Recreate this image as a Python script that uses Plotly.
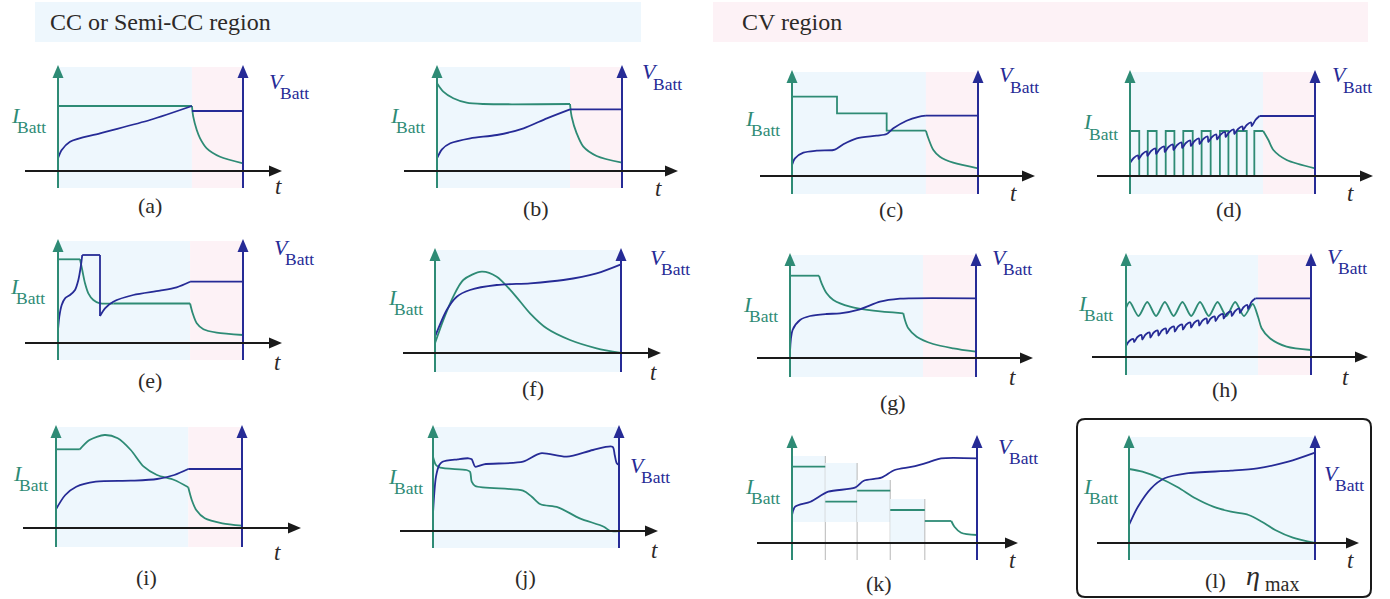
import plotly.graph_objects as go

# ---------------- DATA ----------------
# t: 0 at the I_Batt axis, 1 at the V_Batt axis; values: 1.0 = 100 px above the t axis
a_cc_end = 0.724
a_i_t = [0, 0.724, None, 0.724, 0.731, 0.75, 0.768, 0.804, 0.876, 1.0]
a_i_v = [0.65, 0.65, None, 0.65, 0.543, 0.41, 0.327, 0.227, 0.143, 0.077]
a_v_t = [0, 0.02, 0.065, 0.227, 0.497, 0.724, None, 0.724, 1.0]
a_v_v = [0.127, 0.21, 0.293, 0.377, 0.51, 0.65, None, 0.60, 0.60]

b_cc_end = 0.719
b_i_t = [0, 0.034, 0.088, 0.16, 0.25, 0.719, None, 0.719, 0.728, 0.755, 0.791, 0.863, 1.0]
b_i_v = [0.877, 0.793, 0.727, 0.683, 0.67, 0.67, None, 0.67, 0.543, 0.377, 0.243, 0.15, 0.083]
b_v_t = [0, 0.027, 0.072, 0.18, 0.324, 0.468, 0.594, 0.719, None, 0.719, 1.0]
b_v_v = [0.127, 0.217, 0.277, 0.327, 0.36, 0.427, 0.527, 0.617, None, 0.617, 0.617]

c_cc_end = 0.72
c_step_t = [0, 0.242, 0.509, 0.72]
c_step_v = [0.793, 0.627, 0.453, 0.453]
c_i_t = [0.72, 0.733, 0.76, 0.795, 0.867, 1.0]
c_i_v = [0.453, 0.377, 0.26, 0.193, 0.133, 0.077]
c_v_t = [0, 0.016, 0.061, 0.133, 0.222, 0.24, 0.276, 0.348, 0.455, 0.509, 0.545, 0.616, 0.68, 0.72, None, 0.72, 1.0]
c_v_v = [0.11, 0.177, 0.233, 0.253, 0.26, 0.273, 0.317, 0.377, 0.403, 0.42, 0.477, 0.553, 0.592, 0.603, None, 0.603, 0.603]

d_cc_end = 0.719
d_pulse_t = [0, 0.05, 0.096, 0.144, 0.193, 0.24, 0.288, 0.339, 0.387, 0.436, 0.486, 0.532, 0.577, 0.631, 0.672, 0.72]
d_pulse_v = [0.45, 0, 0.45, 0, 0.45, 0, 0.45, 0, 0.45, 0, 0.45, 0, 0.45, 0, 0.45, 0.45]
d_i_t = [0.72, 0.748, 0.775, 0.847, 1.0]
d_i_v = [0.45, 0.36, 0.26, 0.16, 0.077]
d_v_t = [0, 0.02, 0.044, 0.047, 0.067, 0.091, 0.094, 0.114, 0.138, 0.141, 0.161, 0.185,
         0.188, 0.208, 0.232, 0.235, 0.255, 0.279, 0.282, 0.302, 0.326, 0.329, 0.349, 0.373,
         0.376, 0.396, 0.42, 0.423, 0.443, 0.467, 0.47, 0.49, 0.514, 0.517, 0.537, 0.561,
         0.564, 0.584, 0.608, 0.611, 0.631, 0.655, 0.658, 0.678, 0.70, None, 0.70, 1.0]
d_v_v = [0.13, 0.18, 0.205, 0.17, 0.22, 0.245, 0.20, 0.25, 0.275, 0.22, 0.27, 0.295,
         0.24, 0.29, 0.315, 0.26, 0.31, 0.335, 0.28, 0.33, 0.355, 0.30, 0.35, 0.375,
         0.32, 0.37, 0.395, 0.34, 0.39, 0.415, 0.365, 0.415, 0.44, 0.39, 0.44, 0.465,
         0.42, 0.47, 0.495, 0.46, 0.51, 0.535, 0.50, 0.56, 0.60, None, 0.60, 0.60]

e_cc_end = 0.714
e_i_t = [0, 0.119, None, 0.119, 0.131, 0.146, 0.164, 0.191, 0.227, 0.3, None, 0.3, 0.714,
         None, 0.714, 0.728, 0.75, 0.786, 0.858, 1.0]
e_i_v = [0.837, 0.837, None, 0.837, 0.73, 0.597, 0.497, 0.43, 0.397, 0.395, None, 0.395, 0.395,
         None, 0.395, 0.297, 0.197, 0.137, 0.103, 0.08]
e_v_t = [0, 0.007, 0.02, 0.038, 0.065, 0.092, 0.11, 0.123, 0.131, None, 0.131, 0.227, None,
         0.227, 0.227, None, 0.227, 0.254, 0.299, 0.407, 0.551, 0.641, 0.714, None, 0.714, 1.0]
e_v_v = [0.13, 0.263, 0.38, 0.447, 0.48, 0.53, 0.63, 0.763, 0.88, None, 0.88, 0.88, None,
         0.88, 0.27, None, 0.27, 0.347, 0.413, 0.48, 0.523, 0.557, 0.613, None, 0.613, 0.613]

f_i_t = [0, 0.045, 0.098, 0.152, 0.251, 0.332, 0.421, 0.511, 0.6, 0.726, 0.869, 1.0]
f_i_v = [0.097, 0.33, 0.563, 0.73, 0.813, 0.763, 0.597, 0.397, 0.247, 0.13, 0.047, 0.0]
f_v_t = [0, 0.063, 0.117, 0.188, 0.332, 0.511, 0.69, 0.869, 1.0]
f_v_v = [0.163, 0.43, 0.563, 0.63, 0.68, 0.697, 0.73, 0.797, 0.887]

g_cc_end = 0.715
g_i_t = [0, 0.156, None, 0.156, 0.17, 0.197, 0.233, 0.323, 0.448, 0.609, None,
         0.609, 0.618, 0.636, 0.681, 0.77, 0.878, 1.0]
g_i_v = [0.823, 0.823, None, 0.823, 0.747, 0.647, 0.58, 0.513, 0.473, 0.447, None,
         0.447, 0.38, 0.297, 0.213, 0.14, 0.097, 0.063]
g_v_t = [0, 0.014, 0.054, 0.108, 0.197, 0.269, 0.376, 0.484, 0.591, 0.65, 1.0]
g_v_v = [0.063, 0.28, 0.38, 0.42, 0.44, 0.447, 0.487, 0.563, 0.593, 0.597, 0.597]

h_cc_end = 0.714
h_i_t = [0, 0.02, 0.0675, 0.115, 0.1625, 0.21, 0.2575, 0.305, 0.3525, 0.4, 0.4475, 0.495,
         0.5425, 0.59, 0.6375, 0.685, 0.714, 0.733, 0.778, 0.868, 1.0]
h_i_v = [0.49, 0.55, 0.41, 0.55, 0.41, 0.55, 0.41, 0.55, 0.41, 0.55, 0.41, 0.55,
         0.41, 0.55, 0.41, 0.53, 0.40, 0.287, 0.187, 0.103, 0.07]
h_v_t = [0, 0.018, 0.04, 0.044, 0.062, 0.084, 0.088, 0.106, 0.128, 0.132, 0.15, 0.172,
         0.176, 0.194, 0.216, 0.22, 0.238, 0.26, 0.264, 0.282, 0.304, 0.308, 0.326, 0.348,
         0.352, 0.37, 0.392, 0.396, 0.414, 0.436, 0.44, 0.458, 0.48, 0.484, 0.502, 0.524,
         0.528, 0.546, 0.568, 0.572, 0.59, 0.612, 0.616, 0.634, 0.656, 0.66, 0.678, 0.70,
         None, 0.70, 1.0]
h_v_v = [0.11, 0.16, 0.18, 0.15, 0.2, 0.22, 0.175, 0.225, 0.245, 0.195, 0.245, 0.265,
         0.215, 0.265, 0.285, 0.235, 0.285, 0.305, 0.255, 0.305, 0.325, 0.275, 0.325, 0.345,
         0.295, 0.345, 0.365, 0.315, 0.365, 0.385, 0.335, 0.385, 0.405, 0.36, 0.41, 0.43,
         0.385, 0.435, 0.455, 0.41, 0.46, 0.485, 0.44, 0.495, 0.52, 0.48, 0.55, 0.587,
         None, 0.587, 0.587]

i_cc_end = 0.711
i_i_t = [0, 0.128, None, 0.128, 0.18, 0.261, 0.332, 0.402, 0.472, 0.543, 0.636, 0.711,
         None, 0.711, 0.73, 0.754, 0.8, 0.894, 1.0]
i_i_v = [0.787, 0.787, None, 0.787, 0.88, 0.93, 0.897, 0.78, 0.613, 0.53, 0.48, 0.407,
         None, 0.407, 0.28, 0.18, 0.097, 0.047, 0.023]
i_v_t = [0, 0.05, 0.109, 0.214, 0.402, 0.543, 0.636, 0.711, None, 0.711, 1.0]
i_v_v = [0.187, 0.33, 0.413, 0.463, 0.473, 0.49, 0.53, 0.59, None, 0.59, 0.59]

j_i_t = [0, 0.016, 0.039, 0.18, 0.199, 0.208, 0.227, 0.484, 0.531, 0.578, 0.672, 0.789, 0.918, 0.953, 1.0]
j_i_v = [0.743, 0.66, 0.633, 0.61, 0.593, 0.493, 0.45, 0.403, 0.343, 0.267, 0.237, 0.127, 0.043, 0.0, 0.0]
j_v_t = [0, 0.016, 0.034, 0.051, 0.133, 0.191, 0.208, 0.227, 0.274, 0.484, 0.578, 0.719,
         0.86, 0.965, 0.977, 0.988, 1.0]
j_v_v = [0.177, 0.543, 0.66, 0.693, 0.717, 0.727, 0.717, 0.643, 0.667, 0.693, 0.777, 0.743,
         0.81, 0.843, 0.76, 0.677, 0.66]

k_block_t = [0, 0.18, 0.352, 0.531, 0.718]
k_block_top = [0.87, 0.80, 0.63, 0.44]
k_block_bot = [0.21, 0.21, 0.21, 0.0]
k_i_t = [0, 0.18, None, 0.18, 0.352, None, 0.352, 0.531, None, 0.531, 0.718, None,
         0.718, 0.861, None, 0.861, 0.878, 0.914, 1.0]
k_i_v = [0.763, 0.763, None, 0.413, 0.413, None, 0.523, 0.523, None, 0.33, 0.33, None,
         0.22, 0.22, None, 0.22, 0.163, 0.103, 0.08]
k_v_t = [0, 0.017, 0.1, 0.196, 0.34, 0.388, 0.483, 0.555, 0.651, 0.747, 0.806, 1.0]
k_v_v = [0.28, 0.363, 0.413, 0.513, 0.553, 0.623, 0.653, 0.73, 0.763, 0.813, 0.847, 0.847]

l_i_t = [0, 0.072, 0.167, 0.262, 0.357, 0.453, 0.548, 0.643, 0.714, 0.786, 0.881, 1.0]
l_i_v = [0.74, 0.713, 0.647, 0.557, 0.447, 0.363, 0.313, 0.28, 0.213, 0.13, 0.053, 0.0]
l_v_t = [0, 0.048, 0.119, 0.191, 0.31, 0.548, 0.69, 0.856, 1.0]
l_v_v = [0.18, 0.363, 0.547, 0.647, 0.697, 0.723, 0.747, 0.813, 0.903]

captions = ["(a)", "(b)", "(c)", "(d)", "(e)", "(f)", "(g)", "(h)", "(i)", "(j)", "(k)", "(l)"]
header_left = "CC or Semi-CC region"
header_right = "CV region"

# ---------------- STYLE ----------------
FW, FH = 1390, 599
GREEN = "#2e8b75"
BLUE = "#262b96"
BLACK = "#1a1a1a"
TEXT = "#2d2a28"
SHADE_CC = "#eef7fd"
SHADE_CV = "#fdf2f6"
FONT = "Liberation Serif, Times New Roman, serif"
LW = 1.8
AX_W = 2
HEAD_L, HEAD_HW = 13, 5.5
MAIN_SZ, SUB_SZ = 22, 17.5


def px(x):
    return x / FW


def py(y):
    return 1 - y / FH


def tri(p1, p2, p3):
    return "M {},{} L {},{} L {},{} Z".format(px(p1[0]), py(p1[1]), px(p2[0]), py(p2[1]), px(p3[0]), py(p3[1]))


def text_ann(x, y, text, size, color, xanchor="center"):
    return dict(xref="paper", yref="paper", x=px(x), y=py(y), text=text, showarrow=False,
                xanchor=xanchor, yanchor="middle", font=dict(family=FONT, size=size, color=color))


# panel geometry in pixels: I axis x, V axis x, t axis y
panels = [
    dict(x0=58, x1=243, y0=171, cc=a_cc_end, top=1.04, bot=-0.17, tl=-33, tip=224,
         tlab=(278, 187), cap=(150, 206), I=(48, 121), V=(267, 86),
         curves=[(a_i_t, a_i_v, GREEN, "spline"), (a_v_t, a_v_v, BLUE, "spline")]),
    dict(x0=437, x1=622, y0=171, cc=b_cc_end, top=1.04, bot=-0.17, tl=-33, tip=241,
         tlab=(658, 188), cap=(536, 209), I=(427, 121), V=(640, 77),
         curves=[(b_i_t, b_i_v, GREEN, "spline"), (b_v_t, b_v_v, BLUE, "spline")]),
    dict(x0=792, x1=978, y0=176, cc=c_cc_end, top=1.04, bot=-0.18, tl=-32, tip=243,
         tlab=(1013, 193), cap=(891, 210), I=(782, 124), V=(997, 80),
         curves=[(c_step_t, c_step_v, GREEN, "hv"), (c_i_t, c_i_v, GREEN, "spline"),
                 (c_v_t, c_v_v, BLUE, "spline")]),
    dict(x0=1130, x1=1315, y0=176, cc=d_cc_end, top=1.04, bot=-0.18, tl=-33, tip=243,
         tlab=(1350, 193), cap=(1229, 210), I=(1120, 128), V=(1330, 80),
         curves=[(d_pulse_t, d_pulse_v, GREEN, "hv"), (d_i_t, d_i_v, GREEN, "spline"),
                 (d_v_t, d_v_v, BLUE, "spline")]),
    dict(x0=58, x1=243, y0=343, cc=e_cc_end, top=1.02, bot=-0.17, tl=-33, tip=224,
         tlab=(277, 362), cap=(150, 380), I=(47, 292), V=(272, 252),
         curves=[(e_i_t, e_i_v, GREEN, "spline"), (e_v_t, e_v_v, BLUE, "spline")]),
    dict(x0=435, x1=621, y0=353, cc=1.0, top=1.03, bot=-0.19, tl=-32, tip=226,
         tlab=(653, 372), cap=(533, 388), I=(425, 303), V=(648, 262),
         curves=[(f_i_t, f_i_v, GREEN, "spline"), (f_v_t, f_v_v, BLUE, "spline")]),
    dict(x0=790, x1=976, y0=358, cc=g_cc_end, top=1.03, bot=-0.19, tl=-33, tip=243,
         tlab=(1012, 377), cap=(893, 402), I=(780, 310), V=(990, 262),
         curves=[(g_i_t, g_i_v, GREEN, "spline"), (g_v_t, g_v_v, BLUE, "spline")]),
    dict(x0=1126, x1=1311, y0=357, cc=h_cc_end, top=1.02, bot=-0.18, tl=-34, tip=242,
         tlab=(1345, 377), cap=(1225, 390), I=(1115, 309), V=(1325, 261),
         curves=[(h_i_t, h_i_v, GREEN, "spline"), (h_v_t, h_v_v, BLUE, "spline")]),
    dict(x0=56, x1=242, y0=528, cc=i_cc_end, top=1.01, bot=-0.19, tl=-33, tip=245,
         tlab=(277, 552), cap=(146, 577), I=(50, 479), V=None,
         curves=[(i_i_t, i_i_v, GREEN, "spline"), (i_v_t, i_v_v, BLUE, "spline")]),
    dict(x0=433, x1=619, y0=531, cc=1.0, top=1.04, bot=-0.17, tl=-33, tip=225,
         tlab=(654, 550), cap=(525, 577), I=(425, 482), V=(628, 470),
         curves=[(j_i_t, j_i_v, GREEN, "spline"), (j_v_t, j_v_v, BLUE, "spline")]),
    dict(x0=792, x1=977, y0=543, cc=None, top=1.06, bot=-0.17, tl=-35, tip=226,
         tlab=(1012, 560), cap=(879, 583), I=(782, 492), V=(996, 451),
         curves=[(k_i_t, k_i_v, GREEN, "spline"), (k_v_t, k_v_v, BLUE, "spline")]),
    dict(x0=1129, x1=1315, y0=543, cc=1.0, top=1.06, bot=-0.17, tl=-32, tip=230,
         tlab=(1350, 560), cap=(1215, 580), I=(1120, 492), V=(1322, 478),
         curves=[(l_i_t, l_i_v, GREEN, "spline"), (l_v_t, l_v_v, BLUE, "spline")]),
]

fig = go.Figure()
shapes = []
annotations = []
layout_axes = {}

# header bands
shapes.append(dict(type="rect", xref="paper", yref="paper", x0=px(35), x1=px(641), y0=py(42), y1=py(2),
                   fillcolor=SHADE_CC, line=dict(width=0), layer="below"))
shapes.append(dict(type="rect", xref="paper", yref="paper", x0=px(713), x1=px(1368), y0=py(42), y1=py(2),
                   fillcolor=SHADE_CV, line=dict(width=0), layer="below"))
annotations.append(text_ann(48, 22, header_left, 24, TEXT, "left"))
annotations.append(text_ann(740, 22, header_right, 24, TEXT, "left"))

for n, p in enumerate(panels, start=1):
    sfx = "" if n == 1 else str(n)
    xa, ya = "x" + sfx, "y" + sfx
    W = p["x1"] - p["x0"]
    L = max(0, p["x0"] - 60)
    R = min(FW, p["x0"] + 275)
    T = max(0, p["y0"] - 125)
    B = min(FH, p["y0"] + 32)
    layout_axes["xaxis" + sfx] = dict(domain=[px(L), px(R)], range=[(L - p["x0"]) / W, (R - p["x0"]) / W],
                                      visible=False, anchor=ya, fixedrange=True)
    layout_axes["yaxis" + sfx] = dict(domain=[py(B), py(T)], range=[(p["y0"] - B) / 100, (p["y0"] - T) / 100],
                                      visible=False, anchor=xa, fixedrange=True)

    # shaded regions
    if p["cc"] is not None:
        shapes.append(dict(type="rect", xref=xa, yref=ya, x0=0, x1=p["cc"], y0=p["bot"], y1=p["top"],
                           fillcolor=SHADE_CC, line=dict(width=0), layer="below"))
        if p["cc"] < 1:
            shapes.append(dict(type="rect", xref=xa, yref=ya, x0=p["cc"], x1=1, y0=p["bot"], y1=p["top"],
                               fillcolor=SHADE_CV, line=dict(width=0), layer="below"))
    else:
        for k in range(len(k_block_top)):
            shapes.append(dict(type="rect", xref=xa, yref=ya, x0=k_block_t[k], x1=k_block_t[k + 1],
                               y0=k_block_bot[k], y1=k_block_top[k],
                               fillcolor=SHADE_CC, line=dict(width=0), layer="below"))
            shapes.append(dict(type="line", xref=xa, yref=ya, x0=k_block_t[k + 1], x1=k_block_t[k + 1],
                               y0=p["bot"], y1=k_block_top[k], line=dict(color="#b8b8b8", width=1),
                               layer="below"))

    # axes (pixel geometry) with arrowheads
    x0, x1, y0 = p["x0"], p["x1"], p["y0"]
    ytip = y0 - (p["top"] + 0.02) * 100
    ybot = y0 - p["bot"] * 100
    for (X, col) in ((x0, GREEN), (x1, BLUE)):
        shapes.append(dict(type="line", xref="paper", yref="paper", x0=px(X), x1=px(X), y0=py(ybot),
                           y1=py(ytip + HEAD_L - 2), line=dict(color=col, width=AX_W), layer="above"))
        shapes.append(dict(type="path", xref="paper", yref="paper",
                           path=tri((X, ytip), (X - HEAD_HW, ytip + HEAD_L), (X + HEAD_HW, ytip + HEAD_L)),
                           fillcolor=col, line=dict(width=0), layer="above"))
    xtip = x0 + p["tip"]
    shapes.append(dict(type="line", xref="paper", yref="paper", x0=px(x0 + p["tl"]), x1=px(xtip - HEAD_L + 2),
                       y0=py(y0), y1=py(y0), line=dict(color=BLACK, width=AX_W), layer="above"))
    shapes.append(dict(type="path", xref="paper", yref="paper",
                       path=tri((xtip, y0), (xtip - HEAD_L, y0 - HEAD_HW), (xtip - HEAD_L, y0 + HEAD_HW)),
                       fillcolor=BLACK, line=dict(width=0), layer="above"))

    for (tt, vv, col, shp) in p["curves"]:
        fig.add_trace(go.Scatter(x=tt, y=vv, xaxis=xa, yaxis=ya, mode="lines", connectgaps=False,
                                 line=dict(color=col, width=LW, shape=shp,
                                           smoothing=0.8 if shp == "spline" else None),
                                 hoverinfo="skip", showlegend=False))

    # labels
    annotations.append(text_ann(p["tlab"][0], p["tlab"][1], "<i>t</i>", 23, TEXT))
    annotations.append(text_ann(p["cap"][0], p["cap"][1], captions[n - 1], 22, TEXT))
    rx, cy = p["I"]
    annotations.append(text_ann(rx - 25, cy - 6, "<i>I</i>", MAIN_SZ, GREEN, "right"))
    annotations.append(text_ann(rx, cy + 6, "Batt", SUB_SZ, GREEN, "right"))
    if p["V"] is not None:
        lx, cy = p["V"]
        annotations.append(text_ann(lx, cy - 5, "<i>V</i>", MAIN_SZ, BLUE, "left"))
        annotations.append(text_ann(lx + 11, cy + 7, "Batt", SUB_SZ, BLUE, "left"))

# eta_max label and rounded box around panel (l)
annotations.append(text_ann(1244, 575, "<i>η</i>", 28, TEXT, "left"))
annotations.append(text_ann(1263, 584, "max", 20, TEXT, "left"))


def rounded_rect(x0, y0, x1, y1, r):
    pts = [
        f"M {px(x0 + r)},{py(y0)}", f"L {px(x1 - r)},{py(y0)}", f"Q {px(x1)},{py(y0)} {px(x1)},{py(y0 + r)}",
        f"L {px(x1)},{py(y1 - r)}", f"Q {px(x1)},{py(y1)} {px(x1 - r)},{py(y1)}",
        f"L {px(x0 + r)},{py(y1)}", f"Q {px(x0)},{py(y1)} {px(x0)},{py(y1 - r)}",
        f"L {px(x0)},{py(y0 + r)}", f"Q {px(x0)},{py(y0)} {px(x0 + r)},{py(y0)}", "Z",
    ]
    return " ".join(pts)


shapes.append(dict(type="path", xref="paper", yref="paper", path=rounded_rect(1077, 419, 1371, 597, 8),
                   line=dict(color=BLACK, width=2), fillcolor="rgba(0,0,0,0)", layer="above"))

fig.update_layout(width=FW, height=FH, margin=dict(l=0, r=0, t=0, b=0, pad=0),
                  paper_bgcolor="white", plot_bgcolor="rgba(0,0,0,0)", showlegend=False,
                  shapes=shapes, annotations=annotations, **layout_axes)

fig.write_html("out.html", include_plotlyjs=True, config={"displayModeBar": False},
               post_script="document.body.style.margin='0';")
